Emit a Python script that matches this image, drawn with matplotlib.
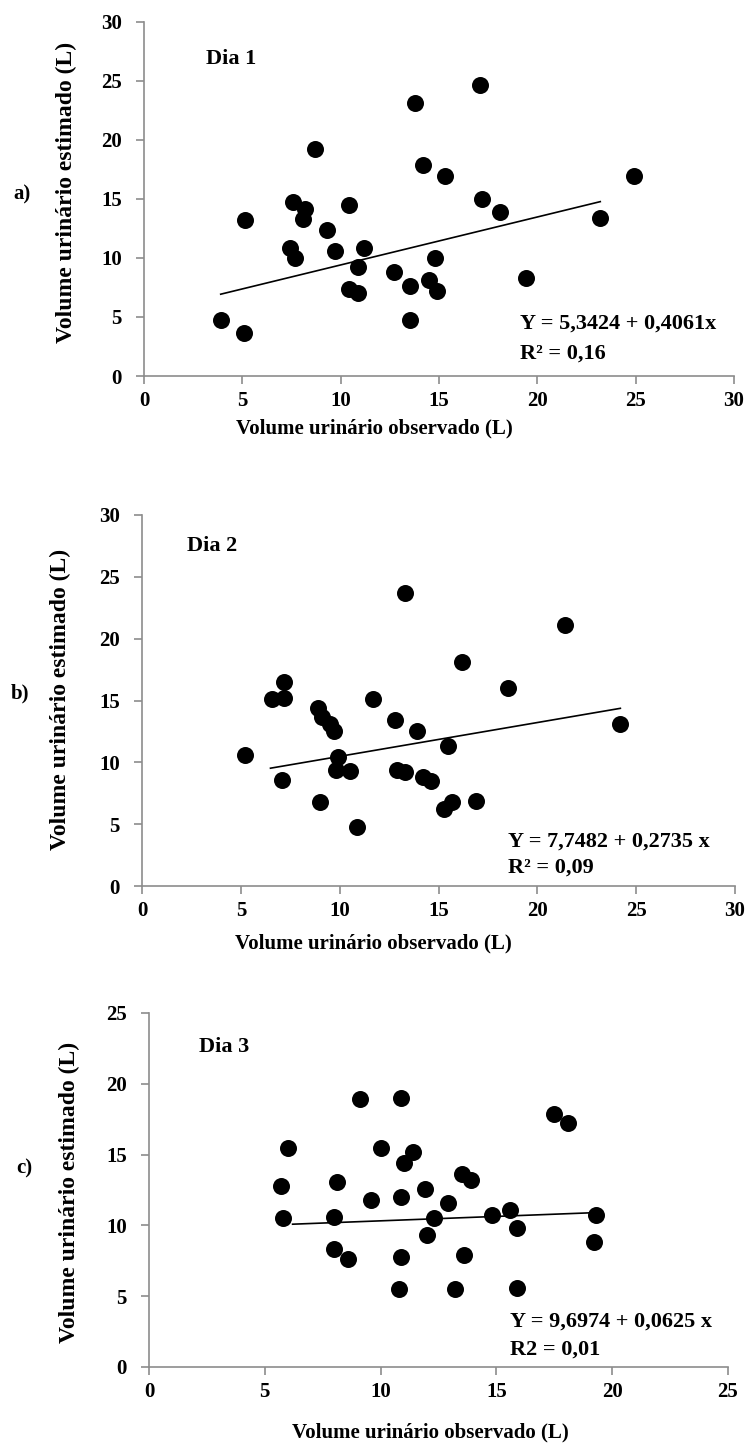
import numpy as np
import matplotlib
matplotlib.use("Agg")
import matplotlib.pyplot as plt

plt.rcParams["font.family"] = ["Liberation Serif", "DejaVu Serif"]
plt.rcParams["font.weight"] = "bold"

# Dia 1
obs_d1 = [3.9, 5.1, 5.15, 7.6, 8.2, 8.1, 7.4, 7.7, 8.7, 9.3, 9.7, 10.4, 10.4, 10.9, 10.9, 11.2,
          12.7, 13.5, 13.5, 13.8, 14.2, 14.5, 14.9, 14.8, 15.3, 17.1, 17.2, 18.1, 19.4, 23.2, 24.9]
est_d1 = [4.7, 3.6, 13.2, 14.7, 14.1, 13.3, 10.8, 10.0, 19.2, 12.4, 10.6, 14.5, 7.4, 7.0, 9.2, 10.8,
          8.8, 7.6, 4.7, 23.1, 17.9, 8.1, 7.2, 10.0, 16.9, 24.6, 15.0, 13.9, 8.3, 13.4, 16.9]

# Dia 2
obs_d2 = [5.2, 6.6, 7.2, 7.2, 7.1, 8.9, 9.1, 9.5, 9.7, 9.9, 9.8, 10.5, 9.0, 10.9, 11.7,
          12.8, 12.9, 13.3, 13.3, 13.9, 14.2, 14.6, 15.5, 15.3, 15.7, 16.2, 16.9, 18.5, 21.4, 24.2]
est_d2 = [10.6, 15.1, 16.5, 15.2, 8.6, 14.4, 13.7, 13.1, 12.5, 10.4, 9.4, 9.3, 6.8, 4.8, 15.1,
          13.4, 9.4, 9.2, 23.7, 12.5, 8.8, 8.5, 11.3, 6.2, 6.8, 18.1, 6.9, 16.0, 21.1, 13.1]

# Dia 3
obs_d3 = [5.7, 5.8, 6.0, 8.0, 8.0, 8.1, 8.6, 9.1, 9.6, 10.0, 10.8, 10.9, 10.9, 10.9, 11.0, 11.4,
          11.9, 12.0, 12.3, 12.9, 13.2, 13.5, 13.9, 13.6, 14.8, 15.6, 15.9, 15.9, 17.5, 18.1, 19.3, 19.2]
est_d3 = [12.8, 10.5, 15.5, 10.6, 8.3, 13.1, 7.6, 18.9, 11.8, 15.5, 5.5, 12.0, 7.8, 19.0, 14.4, 15.2,
          12.6, 9.3, 10.5, 11.6, 5.5, 13.6, 13.2, 7.9, 10.7, 11.1, 9.8, 5.6, 17.9, 17.2, 10.7, 8.8]

# regression lines as printed in the figure (with the x range they are drawn over)
intercepts = [5.3424, 7.7482, 9.6974]
slopes = [0.4061, 0.2735, 0.0625]
fit_ranges = [(3.9, 23.2), (6.5, 24.2), (6.2, 19.3)]
eq_texts = ["Y = 5,3424 + 0,4061x", "Y = 7,7482 + 0,2735 x", "Y = 9,6974 + 0,0625 x"]
r2_texts = ["R\u00b2 = 0,16", "R\u00b2 = 0,09", "R2 = 0,01"]
day_names = ["Dia 1", "Dia 2", "Dia 3"]
panel_tags = ["a)", "b)", "c)"]
axis_max = [30, 30, 25]

W, H = 751, 1452


def fx(x):
    return x / W


def fy(y):
    return 1 - y / H


fig = plt.figure(figsize=(W / 100, H / 100), dpi=100)
fig.patch.set_facecolor("white")

# axes boxes in pixels: left, right, top, bottom
boxes = [(144, 734, 21.7, 376), (142, 735, 515, 886), (149, 728, 1013, 1367)]
day_pos = [(206, 59), (187, 546), (199, 1047)]
eq_pos = [(520, 324, 354), (508, 842, 868), (510, 1322, 1350)]
tag_pos = [(22, 194), (20, 693), (24, 1168)]
ylab_pos = [(66, 192), (60, 699), (69, 1192)]
xlab_pos = [(374, 428), (373, 943), (430, 1432)]

data = [(obs_d1, est_d1), (obs_d2, est_d2), (obs_d3, est_d3)]

for i, (obs, est) in enumerate(data):
    l, r, t, b = boxes[i]
    ax = fig.add_axes([fx(l), fy(b), (r - l) / W, (b - t) / H])
    ax.scatter(obs, est, s=150, color="black", zorder=3, linewidths=0)

    xs = np.array(fit_ranges[i])
    ax.plot(xs, intercepts[i] + slopes[i] * xs, color="black", lw=1.2, zorder=2)

    ax.set_xlim(0, axis_max[i])
    ax.set_ylim(0, axis_max[i])
    ticks = np.arange(0, axis_max[i] + 1, 5)
    ax.set_xticks(ticks)
    ax.set_yticks(ticks)
    for side in ["top", "right"]:
        ax.spines[side].set_visible(False)
    for side in ["left", "bottom"]:
        ax.spines[side].set_color("#8c8c8c")
        ax.spines[side].set_linewidth(1.2)
    ax.tick_params(direction="out", length=6, width=1.2, color="#8c8c8c",
                   labelsize=15, labelcolor="black")
    ax.tick_params(axis="y", pad=10)
    ax.tick_params(axis="x", pad=5)
    for lab in ax.get_xticklabels() + ax.get_yticklabels():
        lab.set_fontweight("bold")

    fig.text(fx(day_pos[i][0]), fy(day_pos[i][1]), day_names[i], fontsize=16,
             fontweight="bold", ha="left", va="center")
    ex, ey1, ey2 = eq_pos[i]
    fig.text(fx(ex), fy(ey1), eq_texts[i], fontsize=16, fontweight="bold", ha="left", va="center")
    fig.text(fx(ex), fy(ey2), r2_texts[i], fontsize=16, fontweight="bold", ha="left", va="center")
    fig.text(fx(tag_pos[i][0]), fy(tag_pos[i][1]), panel_tags[i], fontsize=15,
             fontweight="bold", ha="center", va="center")
    fig.text(fx(ylab_pos[i][0]), fy(ylab_pos[i][1]), "Volume urinário estimado (L)",
             fontsize=17, fontweight="bold", rotation=90, ha="center", va="center")
    fig.text(fx(xlab_pos[i][0]), fy(xlab_pos[i][1]), "Volume urinário observado (L)",
             fontsize=15, fontweight="bold", ha="center", va="center")

fig.savefig("out.png", dpi=100, facecolor="white")
